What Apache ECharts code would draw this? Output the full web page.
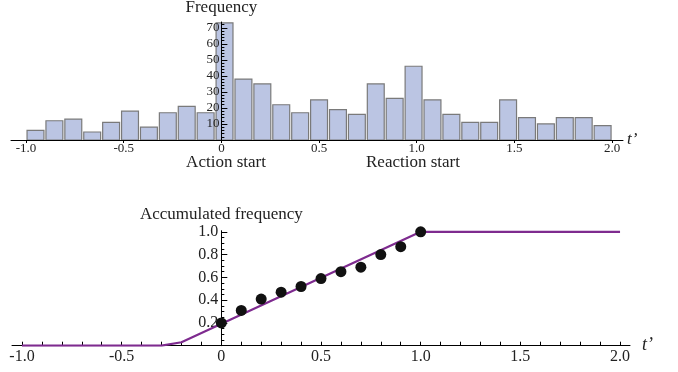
<!DOCTYPE html>
<html>
<head>
<meta charset="utf-8">
<script src="https://cdn.jsdelivr.net/npm/echarts@6/dist/echarts.min.js"></script>
<style>html,body{margin:0;padding:0;background:#fff}#c{width:678px;height:372px}</style>
</head>
<body>
<div id="c"></div>
<script>
// ---- data ----
var histRange = [-1.0, 2.0];
var histCounts = [6,12,13,5,11,18,8,17,21,17,73,38,35,22,17,25,19,16,35,26,46,25,16,11,11,25,14,10,14,14,9];
var xTickLabels = [-1.0, -0.5, 0, 0.5, 1.0, 1.5, 2.0];
var topYTickLabels = [10, 20, 30, 40, 50, 60, 70];
var bottomYTickLabels = [0.2, 0.4, 0.6, 0.8, 1.0];
var lineX = [-1.0, -0.3, -0.2, 1.0, 2.0];
var lineY = [0, 0, 0.03, 1.0, 1.0];
var dotX = [0, 0.1, 0.2, 0.3, 0.4, 0.5, 0.6, 0.7, 0.8, 0.9, 1.0];
var dotY = [0.20, 0.31, 0.41, 0.47, 0.52, 0.59, 0.65, 0.69, 0.80, 0.87, 1.00];

// ---- build ----
var W = 678;
var topGrid = { left: 11, right: 55, top: 22, bottom: 232 };
var botGrid = { left: 12, right: 48, top: 230.7, bottom: 26.3 };
var topX = [-1.077, 2.056];
var botX = [-1.05, 2.05];
// y axes cross the x axis at t' = 0: shift them in from the grid's left edge
function zeroOffset(g, ext) {
  var w = W - g.left - g.right;
  return -w * (0 - ext[0]) / (ext[1] - ext[0]);
}
var topOff = zeroOffset(topGrid, topX);
var botOff = zeroOffset(botGrid, botX);

var binW = (histRange[1] - histRange[0]) / histCounts.length;
var histData = histCounts.map(function (c, i) {
  return [histRange[0] + i * binW, histRange[0] + (i + 1) * binW, c];
});
var lineData = lineX.map(function (x, i) { return [x, lineY[i]]; });
var dotData = dotX.map(function (x, i) { return [x, dotY[i]]; });
function range(a, b, s) { var r = []; for (var v = a; v <= b + 1e-9; v += s) r.push(+v.toFixed(4)); return r; }
var topMinorY = range(2, 72, 2).filter(function (v) { return v % 10 !== 0; });
var botMinorY = range(0.05, 1.0, 0.05);
var botXTicks = range(-1.0, 2.0, 0.1);

var FONT = '"Liberation Serif", "DejaVu Serif", serif';
var TXT = '#222';
function fmtX(v) { return Math.abs(v) < 1e-9 ? '0' : v.toFixed(1); }

var chart = echarts.init(document.getElementById('c'), null, { renderer: 'canvas' });
chart.setOption({
  animation: false,
  backgroundColor: '#fff',
  textStyle: { fontFamily: FONT },
  grid: [
    Object.assign({ outerBoundsMode: 'none', containLabel: false }, topGrid),
    Object.assign({ outerBoundsMode: 'none', containLabel: false }, botGrid)
  ],
  xAxis: [
    {
      gridIndex: 0, type: 'value', min: topX[0], max: topX[1], z: 5,
      axisLine: { onZero: true, lineStyle: { color: '#000', width: 1 } },
      axisTick: { customValues: xTickLabels, length: 3, lineStyle: { color: '#000' } },
      axisLabel: { customValues: xTickLabels, formatter: fmtX, fontFamily: FONT, fontSize: 13, color: TXT, margin: 2 },
      splitLine: { show: false },
      name: 't\u2019', nameLocation: 'end', nameGap: 4,
      nameTextStyle: { fontFamily: FONT, fontStyle: 'italic', fontSize: 17, color: TXT, verticalAlign: 'middle', padding: [0, 0, 6, 0] }
    },
    {
      gridIndex: 1, type: 'value', min: botX[0], max: botX[1],
      axisLine: { onZero: true, lineStyle: { color: '#000', width: 1 } },
      axisTick: { customValues: botXTicks, inside: true, length: 4, lineStyle: { color: '#000' } },
      axisLabel: { customValues: xTickLabels, formatter: fmtX, fontFamily: FONT, fontSize: 16, color: TXT, margin: 3 },
      splitLine: { show: false },
      name: 't\u2019', nameLocation: 'end', nameGap: 12,
      nameTextStyle: { fontFamily: FONT, fontStyle: 'italic', fontSize: 18, color: TXT, verticalAlign: 'middle', padding: [0, 0, 8, 0] }
    }
  ],
  yAxis: [
    {
      gridIndex: 0, type: 'value', min: 0, max: 73.6, position: 'left', offset: topOff, z: 5,
      axisLine: { show: true, onZero: false, lineStyle: { color: '#000', width: 1 } },
      axisTick: { customValues: topYTickLabels, inside: true, length: 6, lineStyle: { color: '#000' } },
      axisLabel: { customValues: topYTickLabels, fontFamily: FONT, fontSize: 13, color: TXT, margin: 2 },
      splitLine: { show: false },
      name: 'Frequency', nameLocation: 'end', nameGap: 6,
      nameTextStyle: { fontFamily: FONT, fontSize: 17, color: TXT, align: 'center' }
    },
    {
      gridIndex: 0, type: 'value', min: 0, max: 73.6, position: 'left', offset: topOff, z: 5,
      axisLine: { show: false, onZero: false },
      axisTick: { customValues: topMinorY, inside: true, length: 3, lineStyle: { color: '#000' } },
      axisLabel: { show: false },
      splitLine: { show: false }
    },
    {
      gridIndex: 1, type: 'value', min: 0, max: 1.01, position: 'left', offset: botOff,
      axisLine: { show: true, onZero: false, lineStyle: { color: '#000', width: 1 } },
      axisTick: { customValues: bottomYTickLabels, inside: true, length: 6, lineStyle: { color: '#000' } },
      axisLabel: { customValues: bottomYTickLabels, formatter: function (v) { return v.toFixed(1); }, fontFamily: FONT, fontSize: 16, color: TXT, margin: 3 },
      splitLine: { show: false },
      name: 'Accumulated frequency', nameLocation: 'end', nameGap: 8,
      nameTextStyle: { fontFamily: FONT, fontSize: 17, color: TXT, align: 'center' }
    },
    {
      gridIndex: 1, type: 'value', min: 0, max: 1.01, position: 'left', offset: botOff,
      axisLine: { show: false, onZero: false },
      axisTick: { customValues: botMinorY, inside: true, length: 3, lineStyle: { color: '#000' } },
      axisLabel: { show: false },
      splitLine: { show: false }
    }
  ],
  series: [
    {
      type: 'custom', xAxisIndex: 0, yAxisIndex: 0, z: 1,
      data: histData,
      renderItem: function (params, api) {
        var p0 = api.coord([api.value(0), api.value(2)]);
        var p1 = api.coord([api.value(1), 0]);
        return {
          type: 'rect',
          shape: { x: p0[0] + 1, y: p0[1], width: p1[0] - p0[0] - 2, height: p1[1] - p0[1] },
          style: { fill: '#BBC5E3', stroke: '#7a7a7a', lineWidth: 1.2 }
        };
      }
    },
    {
      type: 'line', xAxisIndex: 1, yAxisIndex: 2, data: lineData,
      symbol: 'none', lineStyle: { color: '#7E2B8F', width: 2.2 }, z: 3
    },
    {
      type: 'scatter', xAxisIndex: 1, yAxisIndex: 2, data: dotData,
      symbol: 'circle', symbolSize: 11, itemStyle: { color: '#111', opacity: 1 }, z: 4
    }
  ],
  graphic: [
    { type: 'text', x: 226, y: 163, style: { text: 'Action start', font: '17px ' + FONT, fill: TXT, textAlign: 'center', textVerticalAlign: 'middle' } },
    { type: 'text', x: 413, y: 163, style: { text: 'Reaction start', font: '17px ' + FONT, fill: TXT, textAlign: 'center', textVerticalAlign: 'middle' } }
  ]
});
</script>
</body>
</html>
